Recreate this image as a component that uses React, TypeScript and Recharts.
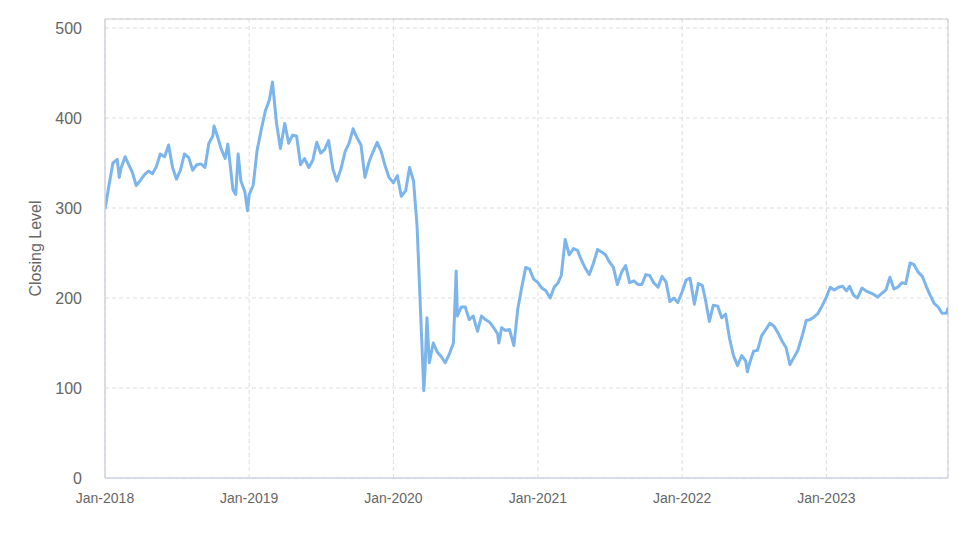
import React from 'react';
import {
  LineChart,
  Line,
  XAxis,
  YAxis,
  CartesianGrid,
  ReferenceArea,
} from 'recharts';

// Sample dates (roughly three per month)
const dates = [
  '2018-01-01', '2018-01-11', '2018-01-21', '2018-02-01', '2018-02-06', '2018-02-11', '2018-02-21',
  '2018-03-01', '2018-03-11', '2018-03-21', '2018-04-01', '2018-04-11', '2018-04-21',
  '2018-05-01', '2018-05-11', '2018-05-21', '2018-06-01', '2018-06-11', '2018-06-21',
  '2018-07-01', '2018-07-11', '2018-07-21', '2018-08-01', '2018-08-11', '2018-08-21',
  '2018-09-01', '2018-09-11', '2018-09-21', '2018-10-01', '2018-10-04', '2018-10-11',
  '2018-10-21', '2018-11-01', '2018-11-08', '2018-11-21', '2018-11-28', '2018-12-04',
  '2018-12-11', '2018-12-21', '2018-12-28',
  '2019-01-01', '2019-01-11', '2019-01-21', '2019-02-01', '2019-02-11', '2019-02-21',
  '2019-03-01', '2019-03-11', '2019-03-21', '2019-04-01', '2019-04-11', '2019-04-21',
  '2019-05-01', '2019-05-11', '2019-05-21', '2019-06-01', '2019-06-11', '2019-06-21',
  '2019-07-01', '2019-07-11', '2019-07-21', '2019-08-01', '2019-08-11', '2019-08-21',
  '2019-09-01', '2019-09-11', '2019-09-21', '2019-10-01', '2019-10-11', '2019-10-21',
  '2019-11-01', '2019-11-11', '2019-11-21', '2019-12-01', '2019-12-11', '2019-12-21',
  '2020-01-01', '2020-01-11', '2020-01-21', '2020-02-01', '2020-02-11', '2020-02-21',
  '2020-03-01', '2020-03-11', '2020-03-18', '2020-03-21', '2020-03-26', '2020-04-01',
  '2020-04-11', '2020-04-21', '2020-05-01', '2020-05-11', '2020-05-21', '2020-06-01',
  '2020-06-08', '2020-06-11', '2020-06-21', '2020-07-01', '2020-07-11', '2020-07-21',
  '2020-08-01', '2020-08-11', '2020-08-21', '2020-09-01', '2020-09-11', '2020-09-21',
  '2020-09-24', '2020-10-01', '2020-10-11', '2020-10-21', '2020-11-01', '2020-11-11',
  '2020-11-21', '2020-12-01', '2020-12-11', '2020-12-21',
  '2021-01-01', '2021-01-11', '2021-01-21', '2021-02-01', '2021-02-11', '2021-02-21',
  '2021-03-01', '2021-03-11', '2021-03-21', '2021-04-01', '2021-04-11', '2021-04-21',
  '2021-05-01', '2021-05-11', '2021-05-21', '2021-06-01', '2021-06-11', '2021-06-21',
  '2021-07-01', '2021-07-11', '2021-07-21', '2021-08-01', '2021-08-11', '2021-08-21',
  '2021-09-01', '2021-09-11', '2021-09-21', '2021-10-01', '2021-10-11', '2021-10-21',
  '2021-11-01', '2021-11-11', '2021-11-21', '2021-12-01', '2021-12-11', '2021-12-21',
  '2022-01-01', '2022-01-11', '2022-01-21', '2022-02-01', '2022-02-11', '2022-02-21',
  '2022-03-01', '2022-03-11', '2022-03-21', '2022-04-01', '2022-04-11', '2022-04-21',
  '2022-05-01', '2022-05-11', '2022-05-21', '2022-06-01', '2022-06-11', '2022-06-15',
  '2022-06-21', '2022-07-01', '2022-07-11', '2022-07-21', '2022-08-01', '2022-08-11',
  '2022-08-21', '2022-09-01', '2022-09-11', '2022-09-21', '2022-10-01', '2022-10-11',
  '2022-10-21', '2022-11-01', '2022-11-11', '2022-11-21', '2022-12-01', '2022-12-11',
  '2022-12-21',
  '2023-01-01', '2023-01-11', '2023-01-21', '2023-02-01', '2023-02-11', '2023-02-21',
  '2023-03-01', '2023-03-11', '2023-03-21', '2023-04-01', '2023-04-11', '2023-04-21',
  '2023-05-01', '2023-05-11', '2023-05-21', '2023-06-01', '2023-06-11', '2023-06-21',
  '2023-07-01', '2023-07-11', '2023-07-21', '2023-08-01', '2023-08-11', '2023-08-21',
  '2023-09-01', '2023-09-11', '2023-09-21', '2023-10-01', '2023-10-11', '2023-10-21',
  '2023-11-01', '2023-11-05',
];

// Closing level at each sample date
const closes = [
  299, 325, 350, 354, 334, 345, 357,
  349, 340, 325, 331, 337, 341,
  338, 346, 360, 357, 370, 345,
  332, 342, 360, 356, 342, 348,
  349, 345, 372, 380, 391, 382,
  367, 355, 371, 320, 315, 360,
  330, 318, 297,
  315, 325, 364, 388, 408, 420,
  440, 395, 366, 394, 372, 381,
  380, 348, 355, 345, 353, 373,
  361, 365, 375, 343, 330, 343,
  363, 372, 388, 378, 370, 334,
  352, 363, 373, 363, 347, 334,
  328, 336, 313, 319, 345, 330,
  280, 172, 97, 119, 178, 128,
  150, 140, 135, 128, 137, 150,
  230, 180, 190, 190, 176, 180,
  163, 180, 176, 173, 167, 160,
  150, 167, 164, 165, 147, 188,
  212, 234, 232, 221,
  217, 211, 208, 200, 212, 217,
  225, 265, 248, 255, 253, 242,
  233, 226, 238, 254, 251, 248,
  240, 234, 215, 229, 236, 217,
  219, 215, 215, 226, 225, 217,
  212, 224, 218, 196, 200, 195,
  207, 220, 222, 193, 216, 214,
  198, 174, 192, 191, 178, 182,
  155, 136, 125, 136, 130, 118,
  128, 141, 142, 158, 165, 172,
  169, 161, 152, 145, 126, 134,
  142, 158, 175, 176, 179, 183,
  191,
  201, 212, 209, 212, 213, 208,
  213, 203, 200, 211, 208, 206,
  204, 201, 205, 209, 223, 210,
  212, 217, 216, 239, 237, 229,
  224, 213, 203, 194, 190, 183,
  183, 189,
];

const yearTicks = ['2018-01-01', '2019-01-01', '2020-01-01', '2021-01-01', '2022-01-01', '2023-01-01'];
const yTicks = [0, 100, 200, 300, 400, 500];

const data = dates.map((d, i) => ({ t: Date.parse(d), close: closes[i] }));
const xStart = Date.parse(dates[0]);
const xEnd = Date.parse(dates[dates.length - 1]);
const yTop = 510;

const formatTick = (t: number) => `Jan-${new Date(t).getUTCFullYear()}`;

const font = '"Liberation Sans", Arial, sans-serif';

export default function App() {
  return (
    <div style={{ width: 966, height: 531, fontFamily: font }}>
      <LineChart
        width={966}
        height={531}
        data={data}
        margin={{ top: 11, right: 26, bottom: 0, left: 0 }}
      >
        <CartesianGrid strokeDasharray="4 3" stroke="#dddddd" />
        <ReferenceArea
          x1={xStart}
          x2={xEnd}
          y1={0}
          y2={yTop}
          fill="none"
          stroke="#cccccc"
          strokeWidth={1}
          ifOverflow="visible"
        />
        <XAxis
          dataKey="t"
          type="number"
          domain={[xStart, xEnd]}
          ticks={yearTicks.map((d) => Date.parse(d))}
          tickFormatter={formatTick}
          height={61}
          tickLine={false}
          tickSize={0}
          tickMargin={15}
          axisLine={{ stroke: '#ccd6eb' }}
          tick={{ fill: '#666666', fontSize: 14, fontFamily: font }}
          allowDataOverflow
        />
        <YAxis
          domain={[0, yTop]}
          ticks={yTicks}
          width={97}
          tickLine={false}
          tickSize={0}
          tickMargin={23}
          axisLine={{ stroke: '#ccd6eb' }}
          tick={{ fill: '#666666', fontSize: 16, fontFamily: font }}
          allowDataOverflow
          label={{
            value: 'Closing Level',
            angle: -90,
            position: 'insideLeft',
            offset: 27,
            style: { textAnchor: 'middle', fill: '#666666', fontSize: 16, fontFamily: font },
          }}
        />
        <Line
          type="linear"
          dataKey="close"
          stroke="#7cb5ec"
          strokeWidth={3}
          strokeLinejoin="round"
          dot={false}
          activeDot={false}
          isAnimationActive={false}
        />
      </LineChart>
    </div>
  );
}
